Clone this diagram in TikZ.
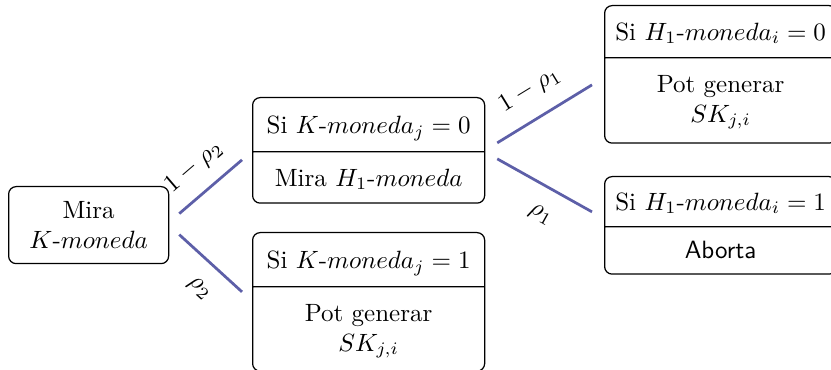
\documentclass[tikz,border=0pt]{standalone}
\usepackage{amsmath}
\usetikzlibrary{shapes.multipart,positioning}
\definecolor{Branca}{HTML}{5D5FA8}
\newcommand{\partstrut}[2]{\rule[-#2]{0pt}{\dimexpr#1+#2\relax}}
\tikzset{
  caixa/.style={draw=black,line width=.5pt,rounded corners=3pt,align=center,fill=white,anchor=north west},
  doble/.style={caixa,rectangle split,rectangle split parts=2,inner ysep=0pt,minimum width=92.8pt},
  branca/.style={draw=Branca,line width=1.1pt},
  prob/.style={sloped,inner sep=1pt}
}
\begin{document}
\begin{tikzpicture}[x=0.4pt,y=-0.4pt]
  \useasboundingbox (0,0) rectangle (831,370);
  \node[caixa,minimum width=64pt,minimum height=30.8pt] (mira) at (8,186) {Mira\\$K$-$moneda$};
  \node[doble] (k0) at (252,97) {Si $K$-$moneda_j=0$\partstrut{14.2pt}{7pt}\nodepart{two}Mira $H_1$-$moneda$\partstrut{13.5pt}{6.5pt}};
  \node[doble] (k1) at (252,232) {Si $K$-$moneda_j=1$\partstrut{14.2pt}{7pt}\nodepart{two}\partstrut{13.5pt}{0pt}Pot generar\\$SK_{j,i}$\partstrut{0pt}{7.7pt}};
  \node[doble] (h0) at (604,5) {Si $H_1$-$moneda_i=0$\partstrut{13.6pt}{6.8pt}\nodepart{two}\partstrut{13.5pt}{0pt}Pot generar\\$SK_{j,i}$\partstrut{0pt}{8.1pt}};
  \node[doble] (h1) at (604,176) {Si $H_1$-$moneda_i=1$\partstrut{13.2pt}{6.4pt}\nodepart{two}\textsf{Aborta}\partstrut{12.4pt}{6pt}};
  % branques
  \draw[branca] ([shift={(4pt,4.6pt)}]mira.east) -- node[prob,pos=.5,above=4.5pt] {$1-\rho_2$} ([shift={(-4pt,-3.8pt)}]k0.west);
  \draw[branca] ([shift={(4pt,-3.8pt)}]mira.east) -- node[prob,pos=.6,below=6pt] {$\rho_2$} ([shift={(-4pt,4pt)}]k1.west);
  \draw[branca] ([shift={(4.8pt,3pt)}]k0.east) -- node[prob,pos=.5,above=5.5pt] {$1-\rho_1$} ([shift={(-4.8pt,-4.2pt)}]h0.west);
  \draw[branca] ([shift={(4.8pt,-3.4pt)}]k0.east) -- node[prob,pos=.6,below=6.5pt] {$\rho_1$} ([shift={(-4.8pt,5.4pt)}]h1.west);
\end{tikzpicture}
\end{document}
